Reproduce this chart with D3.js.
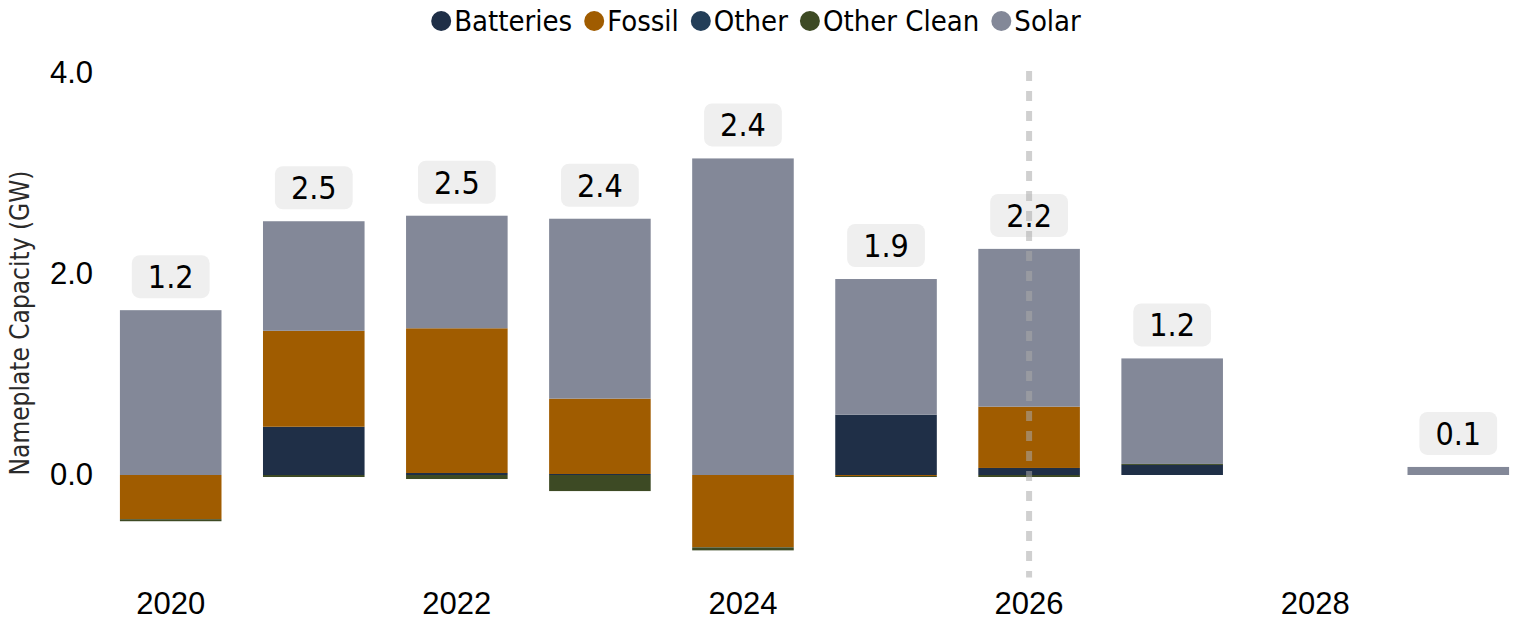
<!DOCTYPE html>
<html>
<head>
<meta charset="utf-8">
<script src="https://cdn.jsdelivr.net/npm/d3@7"></script>
<style>
  body { margin: 0; background: #fff; }
  svg { display: block; font-family: "DejaVu Sans Condensed", "DejaVu Sans", sans-serif; font-stretch: condensed; }
  .tick text { fill: #000; }
</style>
</head>
<body>
<svg id="chart"></svg>
<script>
const years = [2020, 2021, 2022, 2023, 2024, 2025, 2026, 2027, 2028, 2029];
const seriesNames = ["Batteries", "Fossil", "Other", "Other Clean", "Solar"];
const batteries  = [0, 0.48, 0.02, 0.01, 0, 0.60, 0.07, 0.10, 0, 0];
const fossil     = [-0.44, 0.955, 1.44, 0.75, -0.72, -0.01, 0.61, 0, 0, 0];
const other      = [0, 0, 0, 0, 0, 0, 0, 0, 0, 0];
const otherClean = [-0.02, -0.02, -0.04, -0.16, -0.03, -0.01, -0.02, 0.01, 0, 0];
const solar      = [1.64, 1.09, 1.12, 1.79, 3.15, 1.35, 1.57, 1.05, 0, 0.08];
const yTicks = [0, 2, 4];
const xTickYears = [2020, 2022, 2024, 2026, 2028];
const markerYear = 2026;

const colors = {
    "Batteries": "#1f2f47",
    "Fossil": "#a05c00",
    "Other": "#233e58",
    "Other Clean": "#3d4a24",
    "Solar": "#838898"
};

const width = 1517, height = 623;

const svg = d3.select("#chart")
    .attr("width", width)
    .attr("height", height);

// build rows for the stack
const rows = years.map((yr, i) => ({
    year: yr,
    "Batteries": batteries[i],
    "Fossil": fossil[i],
    "Other": other[i],
    "Other Clean": otherClean[i],
    "Solar": solar[i]
}));

const x = d3.scaleBand()
    .domain(years)
    .range([77, 1552])
    .paddingInner(0.29)
    .paddingOuter(0.3);

const y = d3.scaleLinear()
    .domain([-1.02, 4.02])
    .range([577.5, 71]);

const stacked = d3.stack()
    .keys(seriesNames)
    .offset(d3.stackOffsetDiverging)(rows);

svg.append("g")
    .selectAll("g")
    .data(stacked)
    .join("g")
    .attr("fill", d => colors[d.key])
    .selectAll("rect")
    .data(d => d)
    .join("rect")
    .attr("x", d => x(d.data.year))
    .attr("y", d => y(Math.max(d[0], d[1])))
    .attr("width", x.bandwidth())
    .attr("height", d => Math.abs(y(d[0]) - y(d[1])));

// total labels above the positive stack
const labels = svg.append("g");
rows.forEach(r => {
    const vals = seriesNames.map(k => r[k]);
    if (vals.every(v => v === 0)) return;
    const total = d3.sum(vals);
    const top = d3.sum(vals.filter(v => v > 0));
    const cx = x(r.year) + x.bandwidth() / 2;
    const boxBottom = y(top) - 12;
    const g = labels.append("g");
    const t = g.append("text")
        .attr("x", cx)
        .attr("y", boxBottom - 21.5)
        .attr("dy", "0.36em")
        .attr("text-anchor", "middle")
        .style("font-size", "32px")
        .attr("fill", "#000")
        .text(total.toFixed(1));
    const w = t.node().getComputedTextLength() + 32;
    g.insert("rect", "text")
        .attr("x", cx - w / 2)
        .attr("y", boxBottom - 43)
        .attr("width", w)
        .attr("height", 43)
        .attr("rx", 8)
        .attr("fill", "#efefef");
});

// dashed marker line
const mx = x(markerYear) + x.bandwidth() / 2;
svg.append("line")
    .attr("x1", mx).attr("x2", mx)
    .attr("y1", y(4.02)).attr("y2", y(-1.02))
    .attr("stroke", "#aaa")
    .attr("stroke-opacity", 0.55)
    .attr("stroke-width", 6)
    .attr("stroke-dasharray", "10,10");

// axes
const yAxis = svg.append("g")
    .attr("transform", "translate(93,0)")
    .call(d3.axisLeft(y).tickValues(yTicks).tickFormat(d3.format(".1f")).tickSize(0).tickPadding(0));
yAxis.select(".domain").remove();
yAxis.selectAll("text").style("font-size", "31px").attr("font-family", null);

const xAxis = svg.append("g")
    .attr("transform", "translate(0,583)")
    .call(d3.axisBottom(x).tickValues(xTickYears).tickSize(0).tickPadding(9));
xAxis.select(".domain").remove();
xAxis.selectAll("text").style("font-size", "31px").attr("font-family", null);

svg.append("text")
    .attr("transform", "translate(29,323) rotate(-90)")
    .attr("text-anchor", "middle")
    .style("font-size", "26px")
    .attr("fill", "#2a2a2a")
    .text("Nameplate Capacity (GW)");

// legend
const legend = svg.append("g");
let lx = 0;
seriesNames.forEach(name => {
    const item = legend.append("g").attr("transform", `translate(${lx},0)`);
    item.append("circle")
        .attr("cx", 10).attr("cy", 21).attr("r", 10)
        .attr("fill", colors[name]);
    const t = item.append("text")
        .attr("x", 23).attr("y", 21).attr("dy", "0.36em")
        .style("font-size", "29px")
        .attr("fill", "#000")
        .text(name);
    lx += 23 + t.node().getComputedTextLength() + 12;
});
const legendW = lx - 12;
legend.attr("transform", `translate(${756 - legendW / 2},0)`);
</script>
</body>
</html>
